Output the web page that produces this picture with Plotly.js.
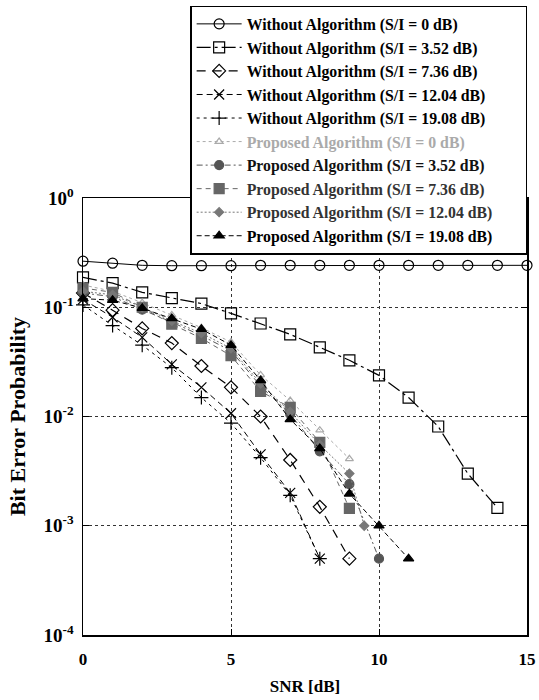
<!DOCTYPE html>
<html>
<head>
<meta charset="utf-8">
<script src="https://cdn.plot.ly/plotly-3.0.1.min.js"></script>
<style>html,body{margin:0;padding:0;background:#fff;}#chart{width:539px;height:700px;}</style>
</head>
<body>
<div id="chart"></div>
<script>
// ---- data ----
const names = [
  'Without Algorithm (S/I = 0 dB)',
  'Without Algorithm (S/I = 3.52 dB)',
  'Without Algorithm (S/I = 7.36 dB)',
  'Without Algorithm (S/I = 12.04 dB)',
  'Without Algorithm (S/I = 19.08 dB)',
  'Proposed Algorithm (S/I = 0 dB)',
  'Proposed Algorithm (S/I = 3.52 dB)',
  'Proposed Algorithm (S/I = 7.36 dB)',
  'Proposed Algorithm (S/I = 12.04 dB)',
  'Proposed Algorithm (S/I = 19.08 dB)'
];
const xW0  = [0,1,2,3,4,5,6,7,8,9,10,11,12,13,14,15];
const yW0  = [0.264,0.253,0.242,0.24,0.24,0.24,0.242,0.242,0.242,0.242,0.242,0.242,0.242,0.242,0.242,0.242];
const xW3  = [0,1,2,3,4,5,6,7,8,9,10,11,12,13,14];
const yW3  = [0.188,0.166,0.137,0.121,0.108,0.088,0.071,0.0565,0.043,0.0327,0.0238,0.0149,0.0081,0.0030,0.00146];
const xW7  = [0,1,2,3,4,5,6,7,8,9];
const yW7  = [0.135,0.094,0.064,0.047,0.029,0.0185,0.010,0.0040,0.00149,0.0005];
const xW12 = [0,1,2,3,4,5,6,7,8];
const yW12 = [0.118,0.081,0.053,0.030,0.0185,0.0107,0.0045,0.0020,0.0005];
const xW19 = [0,1,2,3,4,5,6,7,8];
const yW19 = [0.105,0.068,0.045,0.028,0.0149,0.0087,0.0042,0.0019,0.0005];
const xP0  = [0,1,2,3,4,5,6,7,8,9];
const yP0  = [0.16,0.14,0.11,0.085,0.065,0.048,0.024,0.014,0.0075,0.0041];
const xP3  = [0,1,2,3,4,5,6,7,8,9,10];
const yP3  = [0.135,0.125,0.095,0.073,0.055,0.040,0.019,0.0105,0.0048,0.0024,0.0005];
const xP7  = [0,1,2,3,4,5,6,7,8,9];
const yP7  = [0.15,0.137,0.10,0.070,0.052,0.036,0.017,0.0121,0.0058,0.00144];
const xP12 = [0,1,2,3,4,5,6,7,8,9,9.5];
const yP12 = [0.14,0.13,0.10,0.075,0.058,0.042,0.020,0.011,0.0055,0.0030,0.0010];
const xP19 = [0,1,2,3,4,5,6,7,8,9,10,11];
const yP19 = [0.12,0.116,0.098,0.079,0.063,0.045,0.0214,0.0094,0.0051,0.00196,0.0010,0.0005];
const yTickVals = [1e-4,1e-3,1e-2,1e-1,1];
const yTickText = ['10<sup>-4</sup>','10<sup>-3</sup>','10<sup>-2</sup>','10<sup>-1</sup>','10<sup>0</sup>'];
const xTickVals = [0,5,10,15];

// ---- styles ----
const styles = [
  {dash:'solid', color:'#000', sym:'circle-open', size:10, lw:1, tc:'#000'},
  {dash:'14px,4px,3px,4px', color:'#000', sym:'square-open', size:11, lw:1.2, tc:'#000'},
  {dash:'9px,7px', color:'#000', sym:'diamond-open', size:10, lw:1.2, tc:'#000'},
  {dash:'6px,4px', color:'#000', sym:'x-thin-open', size:10, lw:1, tc:'#000'},
  {dash:'3px,4px', color:'#000', sym:'cross-thin-open', size:10, lw:1, tc:'#000'},
  {dash:'dot', color:'#aaa', sym:'triangle-up-open', size:7, lw:1, tc:'#aaa'},
  {dash:'6px,3px,2px,3px', color:'#555', sym:'circle', size:9, lw:1, tc:'#111'},
  {dash:'5px,4px', color:'#666', sym:'square', size:10, lw:1, tc:'#333'},
  {dash:'2px,2px', color:'#777', sym:'diamond', size:7, lw:1, tc:'#333'},
  {dash:'5px,3px', color:'#000', sym:'triangle-up', size:9, lw:1, tc:'#000'}
];
const xs = [xW0,xW3,xW7,xW12,xW19,xP0,xP3,xP7,xP12,xP19];
const ys = [yW0,yW3,yW7,yW12,yW19,yP0,yP3,yP7,yP12,yP19];
const pad = '\u00a0\u00a0\u00a0\u00a0\u00a0\u00a0\u00a0';

const traces = names.map((n,i)=>({
  type:'scatter', mode:'lines+markers', x:xs[i], y:ys[i],
  name:'<span style="color:'+styles[i].tc+'">'+n+'</span>'+pad,
  cliponaxis:false,
  line:{color:styles[i].color, width:styles[i].lw, dash:styles[i].dash},
  marker:{symbol:styles[i].sym, size:styles[i].size, color:styles[i].color,
          line:{color:styles[i].color, width:1.2}}
}));

const serif = 'Liberation Serif, Times New Roman, serif';
const layout = {
  width:539, height:700,
  margin:{l:83, r:12, t:198, b:65, autoexpand:false},
  paper_bgcolor:'#fff', plot_bgcolor:'#fff',
  font:{family:serif, color:'#000', weight:'bold'},
  showlegend:true,
  legend:{
    xref:'container', yref:'container', x:0.978, y:0.992, xanchor:'right', yanchor:'top',
    bgcolor:'#fff', bordercolor:'#000', borderwidth:1.5,
    font:{family:serif, size:15.8, weight:'bold'},
    itemwidth:45, tracegroupgap:0
  },
  xaxis:{
    range:[0,15], tickvals:xTickVals, ticktext:xTickVals.map(String),
    showline:true, linecolor:'#000', linewidth:1.5, mirror:'ticks',
    ticks:'inside', ticklen:6, tickcolor:'#000',
    showgrid:true, gridcolor:'#333', griddash:'dot', gridwidth:1,
    zeroline:false, ticklabelstandoff:8,
    tickfont:{family:serif, size:17, weight:'bold'},
    title:{text:'SNR [dB]', font:{family:serif, size:17, weight:'bold'}, standoff:12}
  },
  yaxis:{
    type:'log', range:[-4,0], tickvals:yTickVals, ticktext:yTickText,
    showline:true, linecolor:'#000', linewidth:1.5, mirror:'ticks',
    ticks:'inside', ticklen:6, tickcolor:'#000',
    showgrid:true, gridcolor:'#333', griddash:'dot', gridwidth:1,
    zeroline:false, ticklabelstandoff:4,
    tickfont:{family:serif, size:19, weight:'bold'},
    title:{text:'Bit Error Probability', font:{family:serif, size:22, weight:'bold'}, standoff:12}
  }
};
Plotly.newPlot('chart', traces, layout, {displayModeBar:false, staticPlot:true});
</script>
</body>
</html>
